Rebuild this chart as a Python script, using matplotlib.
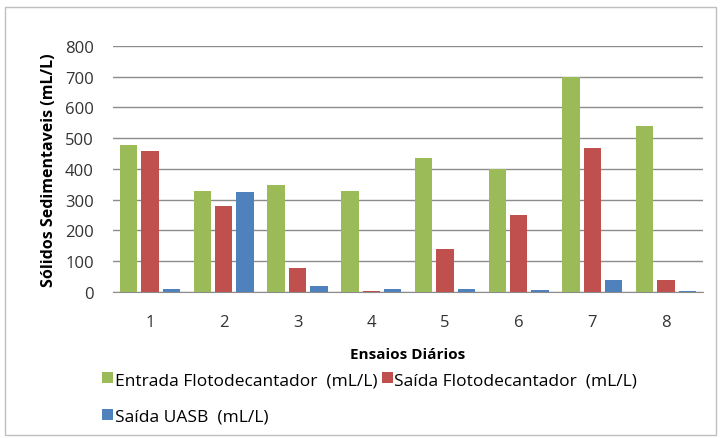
import numpy as np
import matplotlib.pyplot as plt
from matplotlib.patches import Rectangle

plt.rcParams['font.family'] = ['Open Sans', 'DejaVu Sans']

ensaios = ['1', '2', '3', '4', '5', '6', '7', '8']
entrada_floto = [478, 329, 349, 328, 436, 400, 700, 540]
saida_floto = [459, 280, 78, 4, 138, 251, 467, 40]
saida_uasb = [10, 324, 18, 8, 8, 5, 40, 4]

labels = ['Entrada Flotodecantador  (mL/L)', 'Saída Flotodecantador  (mL/L)', 'Saída UASB  (mL/L)']
colors = ['#9BBB59', '#C0504D', '#4F81BD']

fig = plt.figure(figsize=(7.21, 4.39), dpi=100)
ax = fig.add_axes([0.157, 0.333, 0.818, 0.560])

x = np.arange(len(ensaios))
w = 0.235
step = 0.29
bars = []
for i, (vals, lab, c) in enumerate(zip([entrada_floto, saida_floto, saida_uasb], labels, colors)):
    b = ax.bar(x + (i - 1) * step, vals, width=w, color=c, label=lab, zorder=3)
    bars.append(b)

ax.set_xlim(-0.5, len(ensaios) - 0.5)
ax.set_ylim(0, 800)
ax.set_yticks(range(0, 801, 100))
ax.set_xticks(x)
ax.set_xticklabels(ensaios)
ax.tick_params(axis='both', length=0, labelsize=12, colors='#333333')
ax.tick_params(axis='y', pad=14)
ax.tick_params(axis='x', pad=16)
ax.yaxis.grid(True, color='#8C8C8C', linewidth=1.0, zorder=0)
for s in ['top', 'right', 'left']:
    ax.spines[s].set_visible(False)
ax.spines['bottom'].set_color('#8C8C8C')

ax.set_ylabel('Sólidos Sedimentaveis (mL/L)', fontsize=11.5, fontweight='bold', labelpad=6)
ax.set_xlabel('Ensaios Diários', fontsize=11, fontweight='bold', labelpad=12)

# column-major fill: col1 = Entrada, UASB ; col2 = Saida Floto
order = [0, 2, 1]
fig.legend(handles=[bars[k] for k in order], labels=[labels[k] for k in order], ncol=2,
           loc='upper left', bbox_to_anchor=(0.13, 0.17),
           frameon=False, fontsize=12.5, handlelength=0.6, handleheight=0.6, handletextpad=0.1,
           columnspacing=0.3, labelspacing=1.2, borderpad=0)

fig.patches.append(Rectangle((0.007, 0.007), 0.986, 0.975, transform=fig.transFigure,
                             fill=False, edgecolor='#BFBFBF', linewidth=1))

fig.savefig('out.png', dpi=100)
